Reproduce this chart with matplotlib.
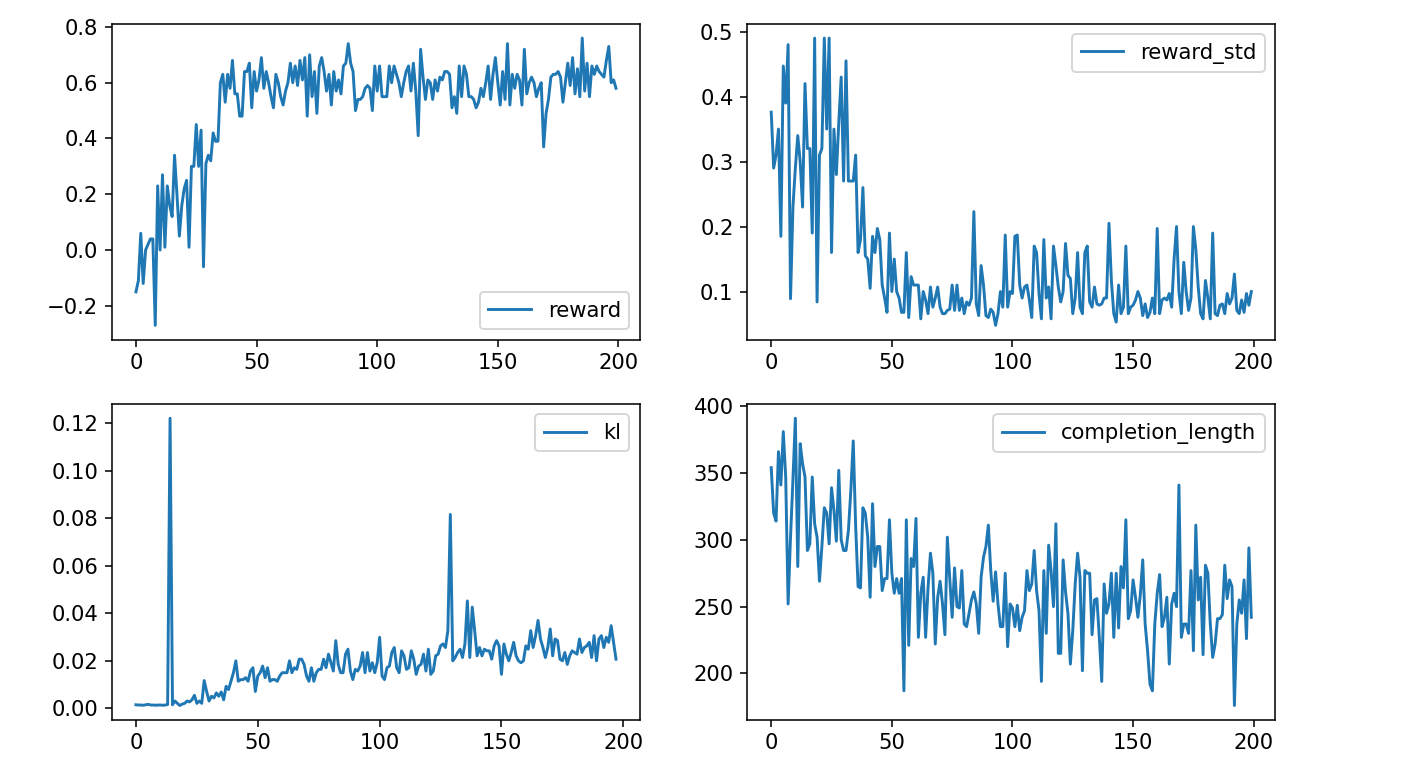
import matplotlib
matplotlib.use("Agg")
import matplotlib.pyplot as plt

plt.rcParams['font.size'] = 10.9

reward = [
    -0.15, -0.11, 0.06, -0.12, 0.0, 0.02, 0.04, 0.04, -0.27, 0.23,
    0.0, 0.27, 0.01, 0.23, 0.16, 0.12, 0.34, 0.2, 0.05, 0.16,
    0.22, 0.25, 0.01, 0.30, 0.30, 0.45, 0.30, 0.43, -0.06, 0.31,
    0.34, 0.32, 0.42, 0.39, 0.39, 0.60, 0.63, 0.53, 0.63, 0.58,
    0.68, 0.56, 0.56, 0.48, 0.48, 0.64, 0.64, 0.67, 0.51, 0.64,
    0.57, 0.61, 0.69, 0.58, 0.64, 0.60, 0.55, 0.51, 0.63, 0.60,
    0.55, 0.52, 0.57, 0.60, 0.67, 0.60, 0.66, 0.59, 0.68, 0.61,
    0.69, 0.48, 0.70, 0.55, 0.64, 0.49, 0.66, 0.69, 0.64, 0.57,
    0.63, 0.52, 0.64, 0.57, 0.61, 0.56, 0.66, 0.67, 0.74, 0.67,
    0.64, 0.50, 0.54, 0.54, 0.55, 0.58, 0.59, 0.58, 0.50, 0.66,
    0.57, 0.66, 0.55, 0.55, 0.55, 0.66, 0.60, 0.66, 0.63, 0.60,
    0.55, 0.60, 0.64, 0.66, 0.57, 0.67, 0.57, 0.41, 0.72, 0.62,
    0.54, 0.61, 0.60, 0.54, 0.61, 0.57, 0.62, 0.61, 0.64, 0.64,
    0.63, 0.51, 0.55, 0.49, 0.66, 0.55, 0.66, 0.63, 0.55, 0.55,
    0.54, 0.51, 0.53, 0.58, 0.55, 0.60, 0.66, 0.54, 0.63, 0.69,
    0.60, 0.52, 0.64, 0.54, 0.74, 0.52, 0.63, 0.58, 0.63, 0.61,
    0.52, 0.72, 0.56, 0.60, 0.62, 0.60, 0.55, 0.58, 0.60, 0.37,
    0.49, 0.54, 0.62, 0.63, 0.63, 0.64, 0.62, 0.53, 0.60, 0.67,
    0.59, 0.69, 0.56, 0.65, 0.55, 0.76, 0.57, 0.67, 0.55, 0.66,
    0.63, 0.66, 0.64, 0.63, 0.62, 0.68, 0.73, 0.60, 0.61, 0.58,
]

reward_std = [
    0.376, 0.29, 0.31, 0.35, 0.185, 0.447, 0.39, 0.48, 0.089, 0.23,
    0.29, 0.34, 0.30, 0.23, 0.42, 0.32, 0.32, 0.19, 0.49, 0.084,
    0.31, 0.32, 0.49, 0.35, 0.49, 0.16, 0.35, 0.28, 0.36, 0.43,
    0.27, 0.455, 0.27, 0.27, 0.27, 0.31, 0.16, 0.18, 0.26, 0.155,
    0.15, 0.105, 0.185, 0.16, 0.197, 0.18, 0.11, 0.09, 0.068, 0.19,
    0.10, 0.15, 0.10, 0.09, 0.068, 0.068, 0.16, 0.06, 0.123, 0.11,
    0.11, 0.11, 0.058, 0.10, 0.087, 0.066, 0.107, 0.076, 0.09, 0.107,
    0.076, 0.066, 0.066, 0.071, 0.073, 0.11, 0.071, 0.11, 0.071, 0.09,
    0.066, 0.084, 0.079, 0.09, 0.223, 0.081, 0.063, 0.14, 0.11, 0.063,
    0.06, 0.073, 0.068, 0.048, 0.066, 0.10, 0.076, 0.187, 0.076, 0.10,
    0.097, 0.185, 0.187, 0.11, 0.09, 0.107, 0.11, 0.087, 0.06, 0.17,
    0.16, 0.097, 0.058, 0.18, 0.09, 0.107, 0.058, 0.17, 0.14, 0.107,
    0.084, 0.10, 0.174, 0.125, 0.12, 0.066, 0.09, 0.16, 0.076, 0.066,
    0.16, 0.17, 0.084, 0.076, 0.107, 0.081, 0.079, 0.081, 0.09, 0.09,
    0.205, 0.117, 0.066, 0.053, 0.11, 0.066, 0.076, 0.17, 0.066, 0.076,
    0.079, 0.087, 0.10, 0.09, 0.063, 0.081, 0.06, 0.068, 0.09, 0.066,
    0.197, 0.066, 0.087, 0.09, 0.087, 0.097, 0.076, 0.15, 0.20, 0.10,
    0.066, 0.145, 0.10, 0.071, 0.09, 0.20, 0.165, 0.107, 0.066, 0.058,
    0.117, 0.09, 0.058, 0.19, 0.066, 0.063, 0.079, 0.081, 0.066, 0.097,
    0.081, 0.09, 0.127, 0.071, 0.066, 0.087, 0.068, 0.097, 0.079, 0.10,
]

kl = [
    0.0014, 0.0013, 0.0013, 0.0012, 0.0014, 0.0016, 0.0013, 0.0013, 0.0012, 0.0013,
    0.0013, 0.0012, 0.0013, 0.0015, 0.122, 0.0014, 0.003, 0.002, 0.0011, 0.0017,
    0.002, 0.003, 0.0026, 0.0035, 0.0054, 0.002, 0.003, 0.002, 0.0116, 0.007,
    0.003, 0.005, 0.0043, 0.0064, 0.005, 0.0068, 0.0035, 0.0092, 0.0078, 0.0113,
    0.0149, 0.0199, 0.0113, 0.012, 0.012, 0.0128, 0.0113, 0.0156, 0.017, 0.007,
    0.0135, 0.0149, 0.0177, 0.0128, 0.017, 0.0113, 0.012, 0.012, 0.0113, 0.0135,
    0.0149, 0.0149, 0.0149, 0.0199, 0.0149, 0.017, 0.0163, 0.0206, 0.0206, 0.0184,
    0.0135, 0.0113, 0.017, 0.0113, 0.0149, 0.0163, 0.0163, 0.0206, 0.017, 0.0227,
    0.0191, 0.0156, 0.0284, 0.0184, 0.0149, 0.0149, 0.0227, 0.0248, 0.0156, 0.012,
    0.0163, 0.0156, 0.0177, 0.0234, 0.0149, 0.0234, 0.0156, 0.0191, 0.0149, 0.0191,
    0.0298, 0.0135, 0.012, 0.017, 0.0177, 0.0234, 0.0255, 0.017, 0.0149, 0.0241,
    0.022, 0.0163, 0.017, 0.0241, 0.0206, 0.0142, 0.0177, 0.0184, 0.0227, 0.0156,
    0.0248, 0.0142, 0.0156, 0.022, 0.0227, 0.0262, 0.027, 0.0255, 0.0326, 0.0815,
    0.0199, 0.0213, 0.0234, 0.0248, 0.0213, 0.027, 0.0451, 0.0213, 0.0425, 0.0326,
    0.022, 0.0255, 0.022, 0.0248, 0.0241, 0.0241, 0.0206, 0.0262, 0.0284, 0.0262,
    0.0142, 0.027, 0.0227, 0.0199, 0.0234, 0.0277, 0.022, 0.0199, 0.0191, 0.0199,
    0.0262, 0.0248, 0.0326, 0.0255, 0.0305, 0.0369, 0.0291, 0.0255, 0.0213, 0.0255,
    0.0333, 0.022, 0.0291, 0.0284, 0.0206, 0.0199, 0.0234, 0.0184, 0.022, 0.0241,
    0.0234, 0.0227, 0.0291, 0.0234, 0.0255, 0.0262, 0.0277, 0.0213, 0.0305, 0.0199,
    0.0291, 0.0305, 0.0255, 0.0298, 0.0277, 0.0347, 0.0277, 0.0206,
]

completion_length = [
    354, 320, 314, 366, 341, 381, 347, 252, 302, 345,
    391, 280, 372, 357, 347, 292, 297, 347, 312, 302,
    269, 295, 324, 320, 297, 339, 322, 299, 352, 300,
    292, 292, 307, 337, 374, 310, 265, 264, 324, 320,
    302, 257, 327, 280, 295, 295, 262, 271, 271, 315,
    275, 260, 271, 260, 271, 187, 315, 221, 286, 280,
    316, 227, 260, 272, 227, 264, 290, 275, 222, 257,
    269, 252, 229, 302, 271, 242, 279, 250, 249, 277,
    237, 235, 245, 255, 261, 252, 230, 272, 287, 295,
    311, 277, 254, 276, 252, 235, 235, 275, 220, 252,
    249, 235, 251, 232, 242, 247, 277, 262, 267, 292,
    262, 247, 194, 277, 230, 296, 277, 250, 312, 215,
    215, 285, 261, 245, 207, 232, 267, 290, 272, 202,
    277, 275, 275, 229, 255, 256, 227, 194, 267, 245,
    252, 275, 227, 275, 234, 280, 264, 315, 241, 247,
    270, 257, 242, 259, 285, 237, 217, 192, 187, 237,
    260, 274, 235, 242, 257, 207, 252, 260, 250, 341,
    227, 237, 237, 230, 277, 217, 311, 255, 272, 214,
    281, 275, 237, 212, 222, 241, 241, 244, 281, 256,
    270, 265, 176, 237, 255, 245, 270, 226, 294, 242,
]

panels = [
    ("reward", reward, "lower right"),
    ("reward_std", reward_std, "upper right"),
    ("kl", kl, "upper right"),
    ("completion_length", completion_length, "upper right"),
]

# original looks like a default matplotlib figure saved at ~140 dpi
fig, axes = plt.subplots(2, 2, figsize=(1417 / 140, 765 / 140), dpi=140)
fig.subplots_adjust(left=0.079, right=0.9, top=0.969, bottom=0.059,
                    wspace=0.203, hspace=0.203)

for ax, (name, values, loc) in zip(axes.flat, panels):
    ax.plot(range(len(values)), values, color="#1f77b4", label=name)
    ax.set_xticks([0, 50, 100, 150, 200])
    ax.legend(loc=loc)

axes[0, 0].set_yticks([-0.2, 0.0, 0.2, 0.4, 0.6, 0.8])
axes[0, 1].set_yticks([0.1, 0.2, 0.3, 0.4, 0.5])
axes[1, 1].set_yticks([200, 250, 300, 350, 400])

fig.savefig("out.png", dpi=140)
